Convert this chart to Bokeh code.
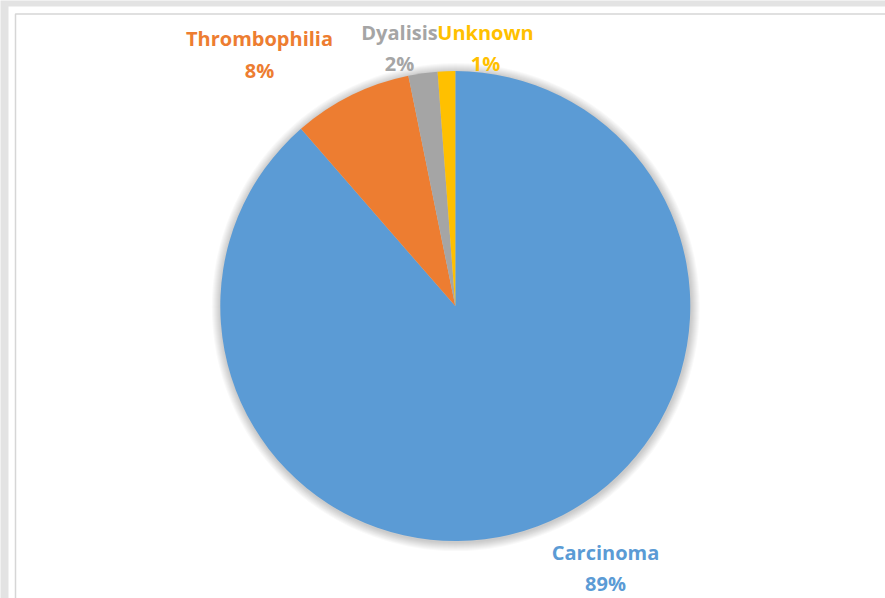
import math
from bokeh.plotting import figure
from bokeh.models import Range1d, ColumnDataSource
from bokeh.core.properties import value
from bokeh.embed import file_html
from bokeh.resources import INLINE

# ---- data ----
categories = ["Carcinoma", "Thrombophilia", "Dyalisis", "Unknown"]
shares = [88.6, 8.2, 2.0, 1.2]
colors = ["#5B9BD5", "#ED7D31", "#A5A5A5", "#FFC000"]

W, H = 885, 598
p = figure(width=W, height=H, output_backend="svg", toolbar_location=None,
           x_range=Range1d(0, W), y_range=Range1d(0, H), min_border=0,
           background_fill_color="#e3e3e3", border_fill_color="#e3e3e3")
p.axis.visible = False
p.grid.visible = False
p.outline_line_color = None

def Y(y):
    return H - y

# white card and its thin border
p.quad(left=8, right=W + 5, top=Y(6), bottom=-5, fill_color="white", line_color=None)
p.quad(left=15, right=W + 5, top=Y(13.5), bottom=-5, fill_color="white",
       line_color="#d6d6d6", line_width=1.5)

cx, cy, r = 454.8, Y(305.6), 235

# soft shadow
for i in range(1, 10):
    p.circle(x=[cx + 0.5], y=[cy - 1], radius=r + i, fill_color="black",
             fill_alpha=0.022, line_color=None)

total = sum(shares)
starts, ends = [], []
cum = 0.0
for s in shares:
    starts.append(math.pi / 2 - 2 * math.pi * cum / total)
    cum += s
    ends.append(math.pi / 2 - 2 * math.pi * cum / total)

src = ColumnDataSource(dict(start=starts, end=ends, color=colors, cat=categories))
p.wedge(x=cx, y=cy, radius=r, start_angle="start", end_angle="end",
        direction="clock", fill_color="color", line_color=None, source=src)

# labels (layout positions in pixels: x center, name baseline, pct baseline)
label_pos = {
    "Carcinoma": (605, 552, 583),
    "Thrombophilia": (259, 38, 70),
    "Dyalisis": (399, 32, 63),
    "Unknown": (485, 32, 63),
}
pcts = [f"{round(s / total * 100)}%" for s in shares]
lx, ly, lt, lc = [], [], [], []
for cat, pct, col in zip(categories, pcts, colors):
    x, b1, b2 = label_pos[cat]
    lx += [x, x]
    ly += [Y(b1), Y(b2)]
    lt += [cat, pct]
    lc += [col, col]
p.text(x=lx, y=ly, text=lt, text_color=lc, text_align="center",
       text_baseline="alphabetic", text_font=value("Open Sans"),
       text_font_style="bold", text_font_size="20px")

open("out.html", "w").write(file_html(p, INLINE))
